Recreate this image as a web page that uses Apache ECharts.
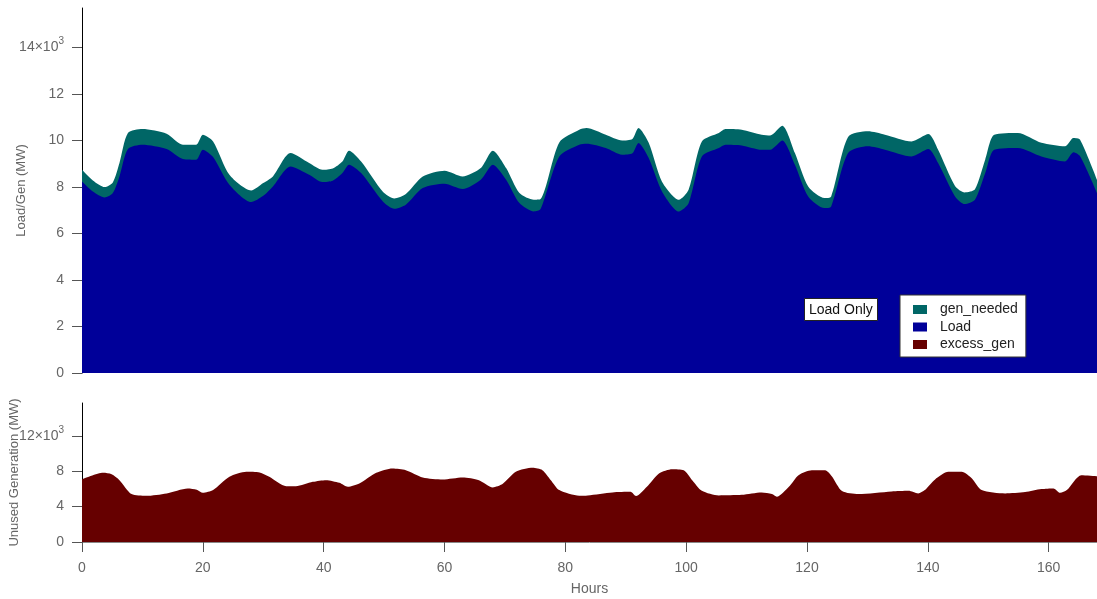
<!DOCTYPE html>
<html>
<head>
<meta charset="utf-8">
<script src="https://cdn.jsdelivr.net/npm/echarts@6/dist/echarts.min.js"></script>
<style>
html,body{margin:0;padding:0;background:#fff;}
#chart{width:1097px;height:599px;}
</style>
</head>
<body>
<div id="chart"></div>
<script>
// ---- data (MW) ----
const topHours = [0,1.8,3.75,5.1,6.2,7.6,10,14,16.7,18.9,20,21.7,24.4,28,30,31.6,34.5,37.6,39.8,41.5,43.1,44.2,46.2,49.8,51.7,53.6,56.4,60,63,66,68,70.2,72.4,74.8,75.9,79,82.3,83.5,86.7,89.4,91.1,92.1,93.8,96,98.8,100.4,102.6,105.4,106.5,109.2,112.5,113.9,115.9,118,120.2,122.9,124,126.8,130.1,132.9,137.3,140.1,141.7,144.5,146.1,147.8,149.5,151,154.9,158.8,162.7,164.1,165.2,168];
const load = [8240,7809,7550,7740,8455,9635,9820,9635,9204,9174,9605,9290,8097,7352,7623,8024,8886,8528,8213,8270,8600,8958,8600,7378,7063,7236,7955,8140,7912,8312,8958,8312,7308,6947,7050,9316,9820,9860,9678,9389,9450,9893,9247,7809,6947,7300,9316,9678,9820,9790,9605,9605,10005,8958,7594,7093,7165,9462,9749,9605,9316,9635,9030,7594,7266,7450,8600,9605,9678,9316,9101,9490,9320,7740];
const genNeeded = [503,474,450,457,577,689,676,659,616,646,646,672,431,500,547,431,576,504,530,530,500,604,500,420,444,464,500,560,543,503,604,503,430,504,430,603,646,679,573,616,620,646,653,420,504,580,646,646,676,676,646,615,633,504,430,431,429,688,646,646,646,645,570,450,500,450,580,646,646,584,648,619,715,572];
const exHours = [0,3.5,4.9,6.2,8.2,10.6,14,17.5,19,20,21.7,24.4,27.2,29.4,31,33.8,35.4,38.2,40.4,42.6,44,45.9,48.7,51.4,53.6,56.4,59.7,63,65.7,68,69.6,71.8,74.6,76.2,77.6,79,82.3,83.7,87.8,90.8,91.7,93.5,95.5,97.7,99.6,101,102.6,105.4,109.2,112.5,114.2,115,117,118.6,120.8,123,124.1,125.8,128.5,134,136.8,138.4,139.5,141.2,143.4,145.6,147.3,148.9,152.8,156.1,158.8,160.8,161.9,163,165.4,168];
const excessGen = [7066,7810,7650,6987,5410,5220,5488,6052,5900,5556,5860,7360,7923,7850,7360,6311,6311,6796,6987,6683,6232,6600,7810,8306,8114,7292,7066,7292,6987,6165,6537,7923,8374,8114,6987,5860,5220,5260,5600,5670,5184,6232,7740,8227,8114,6987,5785,5260,5330,5600,5410,5107,6232,7551,8114,8114,7438,5748,5410,5710,5785,5480,5860,7066,7923,7923,7175,5860,5480,5635,5973,6050,5560,5860,7551,7440];
const xTicks = [0,20,40,60,80,100,120,140,160];
const topYTicks = [0,2000,4000,6000,8000,10000,12000,14000];
const botYLabels = [0,4000,8000,12000];
const botYMinor = [2000,6000,10000,14000];

const FONT = 'Liberation Sans, Arial, sans-serif';
const GRAY = '#666';
const C_GEN = '#006666', C_LOAD = '#000099', C_EX = '#660000';

const richSup = {
  b: {fontFamily: FONT, fontSize: 14, color: GRAY, lineHeight: 22},
  s: {fontFamily: FONT, fontSize: 10, color: GRAY, lineHeight: 12, verticalAlign: 'top'}
};
function yFmt(sciAt) {
  return function (v) {
    if (v === sciAt) return '{b|' + (v / 1000) + '×10}{s|3}';
    return '{b|' + (v / 1000) + '}';
  };
}

const chart = echarts.init(document.getElementById('chart'), null, {renderer: 'canvas'});
const option = {
  backgroundColor: '#fff',
  animation: false,
  textStyle: {fontFamily: FONT},
  grid: [
    {left: 82, right: 0, top: 8, height: 365, containLabel: false, outerBoundsMode: 'none'},
    {left: 82, right: 0, top: 403, height: 139, containLabel: false, outerBoundsMode: 'none'}
  ],
  title: {
    text: 'Load Only', left: 804, top: 298,
    backgroundColor: '#fff', borderColor: '#222', borderWidth: 1,
    padding: [4, 5, 3, 5],
    textStyle: {fontFamily: FONT, fontSize: 14, fontWeight: 'normal', color: '#111', lineHeight: 16}
  },
  legend: {
    data: ['gen_needed', 'Load', 'excess_gen'],
    orient: 'vertical', left: 900, top: 295,
    backgroundColor: '#fff', borderColor: '#333', borderWidth: 1,
    padding: [6, 8, 4, 13],
    itemWidth: 14, itemHeight: 9, itemGap: 0.5, icon: 'rect',
    textStyle: {fontFamily: FONT, fontSize: 14, color: '#222', lineHeight: 17, padding: [0, 0, 0, 8]}
  },
  xAxis: [
    {gridIndex: 0, type: 'value', min: 0, max: 168, show: false},
    {gridIndex: 1, type: 'value', min: 0, max: 168,
      name: 'Hours', nameLocation: 'middle', nameGap: 40, nameMoveOverlap: false,
      nameTextStyle: {fontFamily: FONT, fontSize: 14, color: GRAY},
      axisLine: {lineStyle: {color: '#888', width: 1}},
      axisTick: {length: 10, lineStyle: {color: '#555'}, customValues: xTicks},
      axisLabel: {fontFamily: FONT, fontSize: 14, color: GRAY, margin: 19, customValues: xTicks},
      splitLine: {show: false}
    }
  ],
  yAxis: [
    {gridIndex: 0, type: 'value', min: 0, max: 15700,
      name: 'Load/Gen (MW)', nameLocation: 'middle', nameGap: 54, nameMoveOverlap: false,
      nameTextStyle: {fontFamily: FONT, fontSize: 13, color: GRAY},
      axisLine: {show: true, lineStyle: {color: '#000', width: 1}},
      axisTick: {show: true, length: 10, lineStyle: {color: '#555'}, customValues: topYTicks},
      axisLabel: {margin: 18, customValues: topYTicks, formatter: yFmt(14000), rich: richSup},
      splitLine: {show: false}
    },
    {gridIndex: 1, type: 'value', min: 0, max: 15700,
      name: 'Unused Generation (MW)', nameLocation: 'middle', nameGap: 61, nameMoveOverlap: false,
      nameTextStyle: {fontFamily: FONT, fontSize: 13, color: GRAY},
      axisLine: {show: true, lineStyle: {color: '#000', width: 1}},
      axisTick: {show: true, length: 10, lineStyle: {color: '#555'}, customValues: botYLabels},
      axisLabel: {margin: 18, customValues: botYLabels, formatter: yFmt(12000), rich: richSup},
      splitLine: {show: false}
    },
    {gridIndex: 1, type: 'value', min: 0, max: 15700,
      axisLine: {show: false},
      axisTick: {show: true, length: 5, lineStyle: {color: '#555'}, customValues: botYMinor},
      axisLabel: {show: false},
      splitLine: {show: false}
    }
  ],
  series: [
    {name: 'gen_needed', type: 'line', xAxisIndex: 0, yAxisIndex: 0, smooth: 0.25,
      data: topHours.map((h, i) => [h, load[i] + genNeeded[i]]),
      showSymbol: false, symbol: 'none', lineStyle: {width: 0}, itemStyle: {color: C_GEN},
      areaStyle: {color: C_GEN, opacity: 1}, z: 2},
    {name: 'Load', type: 'line', xAxisIndex: 0, yAxisIndex: 0, smooth: 0.25,
      data: topHours.map((h, i) => [h, load[i]]),
      showSymbol: false, symbol: 'none', lineStyle: {width: 0}, itemStyle: {color: C_LOAD},
      areaStyle: {color: C_LOAD, opacity: 1}, z: 3},
    {name: 'excess_gen', type: 'line', xAxisIndex: 1, yAxisIndex: 1, smooth: 0.25,
      data: exHours.map((h, i) => [h, excessGen[i]]),
      showSymbol: false, symbol: 'none', lineStyle: {width: 0}, itemStyle: {color: C_EX},
      areaStyle: {color: C_EX, opacity: 1}, z: 2}
  ]
};
chart.setOption(option);
</script>
</body>
</html>
